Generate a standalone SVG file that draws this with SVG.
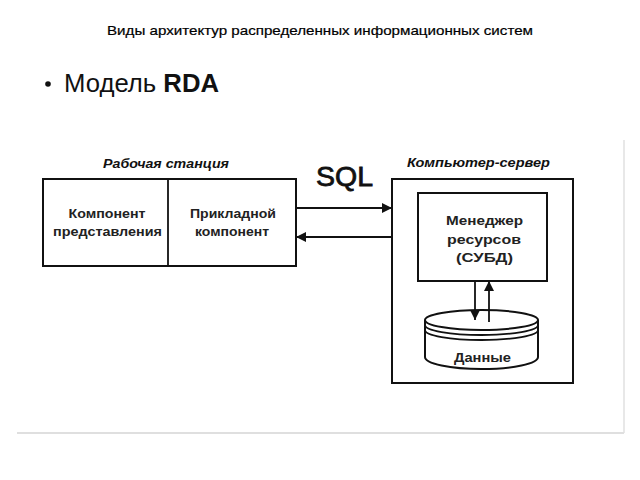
<svg xmlns="http://www.w3.org/2000/svg" width="640" height="480" viewBox="0 0 640 480">
<style>
.box{fill:#fff;stroke:#111;stroke-width:2}
.ln{fill:none;stroke:#111;stroke-width:1.8}
.t{font-family:"Liberation Sans",Arial,sans-serif;font-weight:bold;font-size:12.5px;fill:#222;text-anchor:middle}
.cap{font-family:"Liberation Sans",Arial,sans-serif;font-weight:bold;font-style:italic;font-size:12.5px;fill:#111;text-anchor:middle}
</style>
<defs>
<marker id="ah" viewBox="0 0 10 10" refX="10" refY="5" markerWidth="11" markerHeight="10" markerUnits="userSpaceOnUse" orient="auto">
<path d="M0,0 L10,5 L0,10 z" fill="#111"/>
</marker>
</defs>
<rect width="640" height="480" fill="#fff"/>
<g id="frame">
<line x1="17" y1="433" x2="624" y2="433" stroke="#d4d4d4" stroke-width="1.5"/>
<line x1="624" y1="140" x2="624" y2="433" stroke="#e0e0e0" stroke-width="1.5"/>
</g>
<g id="title">
<text x="320" y="35" font-family="'Liberation Sans',Arial,sans-serif" font-size="13" fill="#000" stroke="#000" stroke-width="0.2" text-anchor="middle" textLength="426" lengthAdjust="spacingAndGlyphs">Виды архитектур распределенных информационных систем</text>
</g>
<g id="bullet">
<circle cx="48" cy="84" r="2.8" fill="#111"/>
<text x="64" y="92" font-family="'Liberation Sans',Arial,sans-serif" font-size="26" fill="#111" textLength="155" lengthAdjust="spacingAndGlyphs">Модель <tspan font-weight="bold">RDA</tspan></text>
</g>
<g id="workstation">
<text class="cap" x="166" y="168" textLength="126" lengthAdjust="spacingAndGlyphs">Рабочая станция</text>
<rect class="box" x="43" y="179" width="253" height="87"/>
<line class="ln" x1="168" y1="179" x2="168" y2="266" stroke-width="2"/>
</g>
<g id="presentation">
<text class="t" x="107" y="218" textLength="77" lengthAdjust="spacingAndGlyphs">Компонент</text>
<text class="t" x="107.5" y="236" textLength="109" lengthAdjust="spacingAndGlyphs">представления</text>
</g>
<g id="application">
<text class="t" x="233" y="218" textLength="86" lengthAdjust="spacingAndGlyphs">Прикладной</text>
<text class="t" x="232" y="236" textLength="74" lengthAdjust="spacingAndGlyphs">компонент</text>
</g>
<g id="server">
<text class="cap" x="478.5" y="167" textLength="143" lengthAdjust="spacingAndGlyphs">Компьютер-сервер</text>
<rect class="box" x="392" y="179" width="181" height="204"/>
</g>
<g id="dbms">
<rect class="box" x="418" y="193" width="129" height="88"/>
<text class="t" x="484.5" y="225" textLength="77" lengthAdjust="spacingAndGlyphs">Менеджер</text>
<text class="t" x="484" y="244" textLength="74" lengthAdjust="spacingAndGlyphs">ресурсов</text>
<text class="t" x="484.5" y="262" textLength="57" lengthAdjust="spacingAndGlyphs">(СУБД)</text>
</g>
<g id="data">
<path class="box" d="M425,320 L425,357 A56.5,12 0 0 0 538,357 L538,320"/>
<ellipse class="box" cx="481.5" cy="320" rx="56.5" ry="10"/>
<path class="ln" d="M425,325 A56.5,10 0 0 0 538,325"/>
<path class="ln" d="M425,330 A56.5,10 0 0 0 538,330"/>
<text class="t" x="482.5" y="362" textLength="57" lengthAdjust="spacingAndGlyphs">Данные</text>
</g>
<g id="connectors">
<line class="ln" x1="296" y1="208" x2="392" y2="208" marker-end="url(#ah)"/>
<line class="ln" x1="392" y1="237" x2="296" y2="237" marker-end="url(#ah)"/>
<line class="ln" x1="475" y1="281" x2="475" y2="320" marker-end="url(#ah)"/>
<line class="ln" x1="489" y1="322" x2="489" y2="281" marker-end="url(#ah)"/>
<text x="344.5" y="186" font-family="'Liberation Sans',Arial,sans-serif" font-size="27" fill="#111" stroke="#111" stroke-width="0.8" text-anchor="middle" textLength="57" lengthAdjust="spacingAndGlyphs">SQL</text>
</g>
</svg>
